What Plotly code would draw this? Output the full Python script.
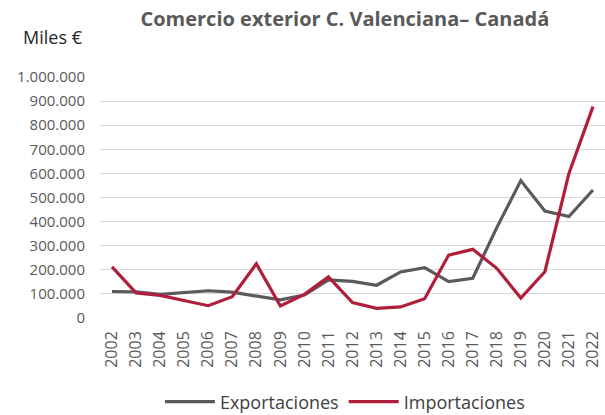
import plotly.graph_objects as go

years = [str(y) for y in range(2002, 2023)]
exportaciones = [110000, 108000, 98000, 105000, 113000, 107000, 91000, 75000, 95000, 158000,
                 152000, 136000, 191000, 209000, 151000, 165000, 375000, 570000, 444000, 421000, 531000]
importaciones = [212000, 104000, 94000, 72000, 51000, 88000, 225000, 50000, 98000, 171000,
                 64000, 40000, 46000, 80000, 261000, 285000, 206000, 83000, 192000, 600000, 877000]
y_ticks = [0, 100000, 200000, 300000, 400000, 500000, 600000, 700000, 800000, 900000, 1000000]

font_family = "Open Sans, Noto Sans, Liberation Sans, sans-serif"

fig = go.Figure()
fig.add_trace(go.Scatter(x=years, y=exportaciones, mode="lines", name="Exportaciones",
                         line=dict(color="#5a5a5a", width=3.2)))
fig.add_trace(go.Scatter(x=years, y=importaciones, mode="lines", name="Importaciones",
                         line=dict(color="#b01e3c", width=3.2)))

fig.update_layout(
    width=605, height=415,
    margin=dict(l=100, r=0, t=77, b=97, autoexpand=False),
    paper_bgcolor="white", plot_bgcolor="white",
    separators=",.",
    title=dict(text="<b>Comercio exterior C. Valenciana– Canadá</b>", x=0.57, xanchor="center",
               y=0.954, yanchor="middle",
               font=dict(family=font_family, size=20, color="#595959")),
    legend=dict(orientation="h", x=0.485, xanchor="center", y=-0.348, yanchor="middle",
                font=dict(family=font_family, size=18, color="#404040"),
                itemwidth=50, traceorder="normal"),
    showlegend=True,
    annotations=[dict(text="Miles €", xref="paper", yref="paper", x=-0.0297, y=1.166,
                      xanchor="right", yanchor="middle", showarrow=False,
                      font=dict(family=font_family, size=18, color="#262626"))],
)
fig.update_xaxes(type="category", range=[-0.5, 20.5], tickangle=-90, showgrid=False,
                 showline=False, ticks="", automargin=False, ticklabelstandoff=9,
                 tickfont=dict(family=font_family, size=16, color="#595959"))
fig.update_yaxes(range=[0, 1000000], tickvals=y_ticks, tickformat=",d",
                 showgrid=True, gridcolor="#d9d9d9", gridwidth=1, zeroline=False,
                 showline=False, ticks="", automargin=False, ticklabelstandoff=14,
                 tickfont=dict(family=font_family, size=15, color="#595959"))

fig.write_html("out.html")
